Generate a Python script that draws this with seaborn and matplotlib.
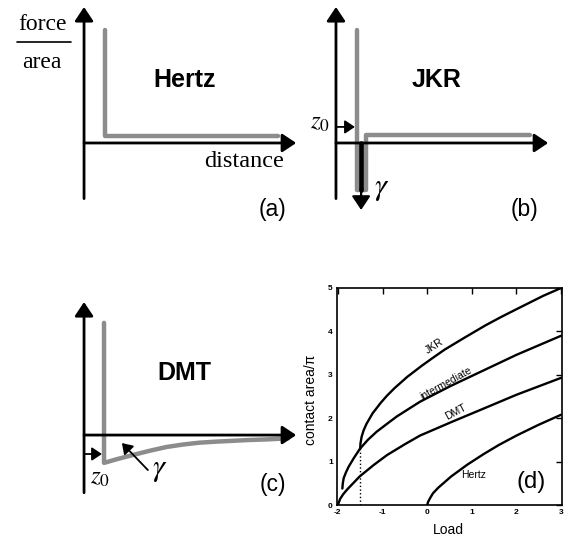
import matplotlib.pyplot as plt
import seaborn as sns

# (d) contact area / pi against load
jkr_load = [-1.50, -1.494, -1.469, -1.424, -1.359, -1.224, -1.044, -0.899, -0.734,
            -0.449, -0.119, 0.126, 0.391, 0.827, 1.307, 1.652, 2.017, 2.60, 3.0]
jkr_area = [1.31, 1.42, 1.57, 1.72, 1.87, 2.11, 2.35, 2.52, 2.69,
            2.95, 3.21, 3.39, 3.58, 3.85, 4.14, 4.33, 4.52, 4.82, 5.0]

inter_load = [-1.90, -1.89, -1.87, -1.82, -1.76, -1.65, -1.51, -1.33, -1.13,
              -0.90, -0.68, -0.16, 0.52, 1.26, 2.0, 3.0]
inter_area = [0.38, 0.50, 0.62, 0.75, 0.88, 1.07, 1.29, 1.50, 1.69,
              1.87, 2.04, 2.38, 2.74, 3.10, 3.46, 3.90]

dmt_load = [-2.0, -1.95, -1.88, -1.79, -1.65, -1.51, -1.2, -0.9, -0.5,
            -0.16, 0.54, 1.26, 2.0, 3.0]
dmt_area = [0.0, 0.14, 0.25, 0.36, 0.51, 0.66, 0.92, 1.15, 1.40,
            1.60, 1.91, 2.22, 2.54, 2.93]

hertz_load = [0.0, 0.02, 0.06, 0.13, 0.25, 0.54, 0.9, 1.26, 1.6, 2.0, 2.5, 3.0]
hertz_area = [0.0, 0.07, 0.15, 0.27, 0.40, 0.66, 0.93, 1.17, 1.38, 1.60, 1.85, 2.08]

pulloff_load = [-1.5, -1.5]
pulloff_area = [0.0, 1.31]

# (a)-(c) schematic force/area against distance (arbitrary units)
hertz_dist = [1.0, 1.0, 9.4]
hertz_force = [5.5, 0.35, 0.35]

jkr_dist = [1.0, 1.0, 1.45, 1.45, 9.4]
jkr_force = [5.5, -2.3, -2.3, 0.4, 0.4]
jkr_well_dist = [1.22, 1.22]
jkr_well_force = [0.0, -2.3]

dmt_dist = [0.97, 0.97, 1.6, 2.4, 3.2, 4.0, 4.8, 5.6, 6.4, 7.2, 8.0, 8.9, 9.9]
dmt_force = [5.45, -1.35, -1.17, -0.96, -0.76, -0.58, -0.46, -0.37, -0.32,
             -0.28, -0.24, -0.21, -0.16]

sns.set_theme(style="white")
plt.rcParams["font.family"] = ["Liberation Sans", "DejaVu Sans"]
plt.rcParams["mathtext.fontset"] = "stix"
plt.rcParams["axes.unicode_minus"] = False
plt.rcParams["text.color"] = "black"
plt.rcParams["axes.labelcolor"] = "black"

GRAY = "#8c8c8c"
SERIF = ["Liberation Serif", "DejaVu Serif"]

fig = plt.figure(figsize=(5.68, 5.37), dpi=100)


def arrow(ax, start, end, lw=2.0, size=14):
    ax.annotate("", xy=end, xytext=start, annotation_clip=False,
                arrowprops=dict(arrowstyle="-|>,head_length=0.6,head_width=0.4",
                                lw=lw, color="black", mutation_scale=size,
                                shrinkA=0, shrinkB=0))


def schematic(rect, xlim, ylim, y_bottom, y_top):
    ax = fig.add_axes(rect)
    ax.set_xlim(*xlim)
    ax.set_ylim(*ylim)
    ax.axis("off")
    arrow(ax, (0, y_bottom), (0, y_top))
    arrow(ax, (0, 0), (10.3, 0))
    return ax


# (a) Hertz
ax_a = schematic([0, 0.5158, 0.5106, 0.4842], (-4.08, 10.0), (-5.68, 6.94), -2.7, 6.6)
sns.lineplot(x=hertz_dist, y=hertz_force, ax=ax_a, sort=False, estimator=None,
             color=GRAY, lw=3.2)
ax_a.text(-2.04, 5.73, "force", family=SERIF, fontsize=17, ha="center", va="center")
ax_a.plot([-3.25, -0.63], [4.9, 4.9], color="black", lw=1.2)
ax_a.text(-2.04, 3.93, "area", family=SERIF, fontsize=17, ha="center", va="center")
ax_a.text(4.9, 3.06, "Hertz", fontsize=18, fontweight="bold", ha="center", va="center")
ax_a.text(7.77, -0.92, "distance", family=SERIF, fontsize=17.5, ha="center", va="center")
ax_a.text(9.13, -3.25, "(a)", fontsize=16.5, ha="center", va="center")

# (b) JKR
ax_b = schematic([0.5106, 0.5158, 0.4894, 0.4842], (-2.23, 11.26), (-5.68, 6.94), -2.7, 6.6)
sns.lineplot(x=jkr_dist, y=jkr_force, ax=ax_b, sort=False, estimator=None,
             color=GRAY, lw=3.2)
sns.lineplot(x=jkr_well_dist, y=jkr_well_force, ax=ax_b, sort=False, estimator=None,
             color="black", lw=3.4)
arrow(ax_b, (1.22, -2.0), (1.22, -3.25), lw=1.6)
arrow(ax_b, (0.05, 0.78), (0.92, 0.78), lw=1.3, size=10)
ax_b.text(-0.78, 1.02, r"$z_0$", fontsize=18, ha="center", va="center")
ax_b.text(2.23, -2.2, r"$\gamma$", fontsize=22, ha="center", va="center")
ax_b.text(4.9, 3.06, "JKR", fontsize=18, fontweight="bold", ha="center", va="center")
ax_b.text(9.13, -3.25, "(b)", fontsize=16.5, ha="center", va="center")

# (c) DMT
ax_c = schematic([0, 0, 0.5106, 0.5158], (-4.08, 10.0), (-4.95, 8.50), -2.8, 6.46)
sns.lineplot(x=dmt_dist, y=dmt_force, ax=ax_c, sort=False, estimator=None,
             color=GRAY, lw=3.2)
arrow(ax_c, (3.1, -1.70), (1.84, -0.39), lw=1.3, size=10)
arrow(ax_c, (0.05, -0.92), (0.87, -0.92), lw=1.3, size=10)
ax_c.text(0.78, -2.05, r"$z_0$", fontsize=18, ha="center", va="center")
ax_c.text(3.69, -1.65, r"$\gamma$", fontsize=22, ha="center", va="center")
ax_c.text(4.88, 3.0, "DMT", fontsize=18, fontweight="bold", ha="center", va="center")
ax_c.text(9.17, -2.38, "(c)", fontsize=16.5, ha="center", va="center")

# (d) contact area vs load
ax_d = fig.add_axes([337 / 568, 32 / 537, 225 / 568, 217 / 537])
for load, area in [(jkr_load, jkr_area), (inter_load, inter_area),
                   (dmt_load, dmt_area), (hertz_load, hertz_area)]:
    sns.lineplot(x=load, y=area, ax=ax_d, sort=False, estimator=None,
                 color="black", lw=1.7)
sns.lineplot(x=pulloff_load, y=pulloff_area, ax=ax_d, sort=False, estimator=None,
             color="black", lw=1.0, linestyle=":")

ax_d.set_xlim(-2.02, 3.02)
ax_d.set_ylim(0, 5)
ax_d.set_xticks([-2, -1, 0, 1, 2, 3])
ax_d.set_yticks([0, 1, 2, 3, 4, 5])
ax_d.tick_params(direction="in", length=4, width=1, top=True, right=True,
                 labelsize=6, pad=3, colors="black")
for lbl in ax_d.get_xticklabels() + ax_d.get_yticklabels():
    lbl.set_fontweight("bold")
for sp in ax_d.spines.values():
    sp.set_color("black")
    sp.set_linewidth(1.2)

ax_d.set_xlabel("Load", fontsize=10)
ax_d.set_ylabel("contact area/π", fontsize=10)
ax_d.xaxis.set_label_coords(0.493, -0.085)
ax_d.yaxis.set_label_coords(-0.085, 0.484)

ax_d.text(0.17, 3.66, "JKR", rotation=33, fontsize=7.5, ha="center", va="center")
ax_d.text(0.42, 2.81, "intermediate", rotation=29, fontsize=7.5, ha="center", va="center")
ax_d.text(0.63, 2.15, "DMT", rotation=28, fontsize=7.5, ha="center", va="center")
ax_d.text(1.05, 0.69, "Hertz", fontsize=7.5, ha="center", va="center")
ax_d.text(2.33, 0.52, "(d)", fontsize=17, ha="center", va="center")

plt.savefig("out.png", dpi=100)
